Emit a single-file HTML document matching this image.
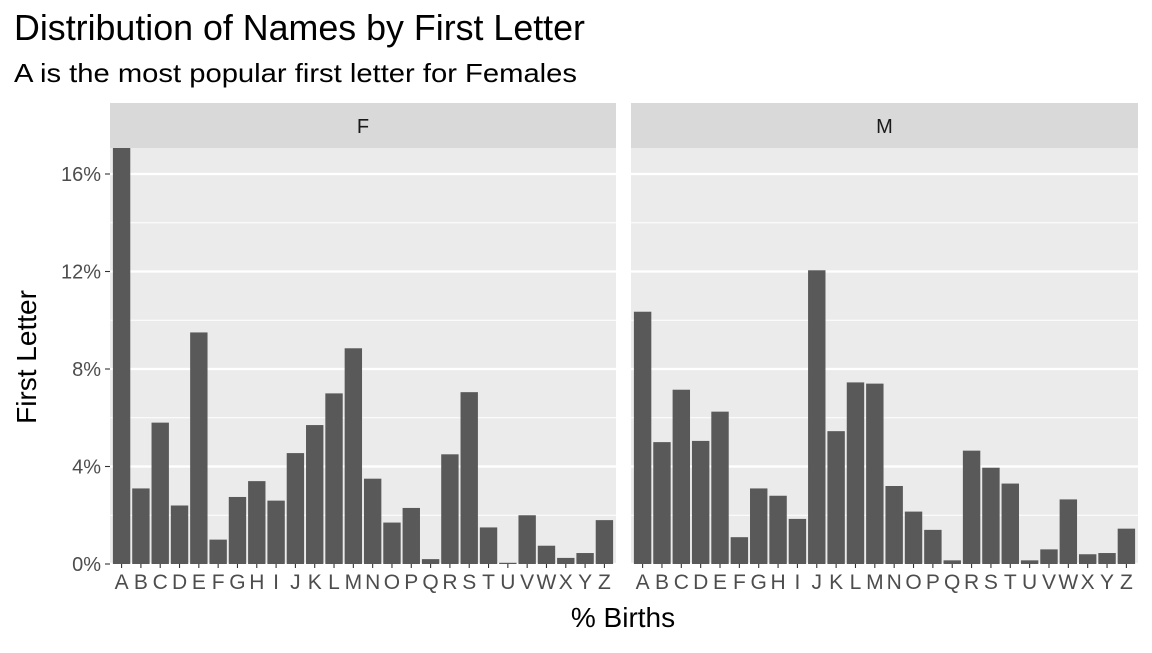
<!DOCTYPE html>
<html><head><meta charset="utf-8"><style>
body{margin:0;background:#fff;font-family:"Liberation Sans",sans-serif;}
</style></head><body>
<svg id="c" width="1152" height="648" xmlns="http://www.w3.org/2000/svg" font-family="Liberation Sans, sans-serif">
<text x="14" y="40" font-size="35.8" fill="#000">Distribution of Names by First Letter</text>
<text x="14" y="82" font-size="26" fill="#000" textLength="563" lengthAdjust="spacingAndGlyphs">A is the most popular first letter for Females</text>
<text transform="translate(36,357) rotate(-90)" text-anchor="middle" font-size="28" fill="#000">First Letter</text>
<text x="623" y="627" text-anchor="middle" font-size="28" fill="#000">% Births</text>
<g id="g"></g>
</svg>
<script>
const letters = "ABCDEFGHIJKLMNOPQRSTUVWXYZ".split("");
const panels = ["F","M"];
const valuesF = [17.3,3.1,5.8,2.4,9.5,1.0,2.75,3.4,2.6,4.55,5.7,7.0,8.85,3.5,1.7,2.3,0.2,4.5,7.05,1.5,0.05,2.0,0.75,0.25,0.45,1.8];
const valuesM = [10.35,5.0,7.15,5.05,6.25,1.1,3.1,2.8,1.85,12.05,5.45,7.45,7.4,3.2,2.15,1.4,0.15,4.65,3.95,3.3,0.15,0.6,2.65,0.4,0.45,1.45];
const yTicks = [0,4,8,12,16];
const yTickLabels = ["0%","4%","8%","12%","16%"];

const NS="http://www.w3.org/2000/svg";
const g=document.getElementById("g");
function el(t,a,p){const e=document.createElementNS(NS,t);for(const k in a)e.setAttribute(k,a[k]);(p||g).appendChild(e);return e;}
const panelTop=148, panelBottom=564, pxPer=24.375;
function y(v){return panelBottom - v*pxPer;}
const panelX=[[110,616],[631,1138]];
const series=[valuesF,valuesM];
el("defs",{}).innerHTML='<clipPath id="cp0"><rect x="110" y="148" width="506" height="416"/></clipPath><clipPath id="cp1"><rect x="631" y="148" width="507" height="416"/></clipPath>';
panels.forEach((p,pi)=>{
  const [x0,x1]=panelX[pi];
  const w=x1-x0;
  const step=w/(letters.length+0.2);
  function x(i){return x0+step*(0.6+i);}
  const strip=el("rect",{x:x0,y:103,width:w,height:45,fill:"#d9d9d9"});
  
  
  const st=el("text",{x:(x0+x1)/2,y:133,"text-anchor":"middle","font-size":"20",fill:"#1a1a1a"});
  st.textContent=p;
  
  
  const bg=el("rect",{x:x0,y:panelTop,width:w,height:panelBottom-panelTop,fill:"#ebebeb"});
  
  
  for(let v=2;v<17;v+=4){el("line",{x1:x0,x2:x1,y1:y(v),y2:y(v),stroke:"#fff","stroke-width":1});}
  yTicks.forEach(v=>{el("line",{x1:x0,x2:x1,y1:y(v),y2:y(v),stroke:"#fff","stroke-width":2.2});});
  const bg2=el("g",{"clip-path":"url(#cp"+pi+")"});
  series[pi].forEach((v,i)=>{
    const bw=step*0.9;
    const r=el("rect",{x:x(i)-bw/2,y:y(v),width:bw,height:panelBottom-y(v),fill:"#595959"},bg2);
    
    
  });
  letters.forEach((L,i)=>{
    el("line",{x1:x(i),x2:x(i),y1:panelBottom,y2:panelBottom+4,stroke:"#333","stroke-width":1.1});
    const t=el("text",{x:x(i),y:589,"text-anchor":"middle","font-size":"21",fill:"#4d4d4d"});
    t.textContent=L;
    
    
  });
});
yTicks.forEach((v,i)=>{
  el("line",{x1:105,x2:110,y1:y(v),y2:y(v),stroke:"#333","stroke-width":1.1});
  const t=el("text",{x:101,y:y(v)+7,"text-anchor":"end","font-size":"20",fill:"#4d4d4d"});
  t.textContent=yTickLabels[i];
  
  
});
</script>
</body></html>
